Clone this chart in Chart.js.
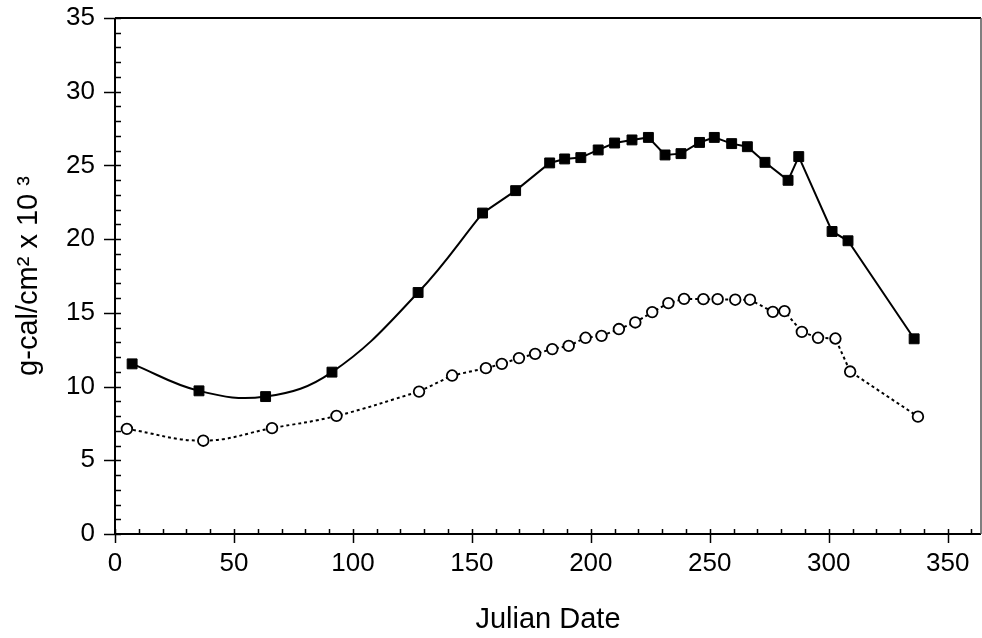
<!DOCTYPE html>
<html>
<head>
<meta charset="utf-8">
<script src="https://cdn.jsdelivr.net/npm/chart.js@4.4.0/dist/chart.umd.min.js"></script>
<style>
html,body{margin:0;padding:0;background:#fff;overflow:hidden;}
canvas{display:block;}
</style>
</head>
<body>
<canvas id="c" width="982" height="638"></canvas>
<script>
// ---- data ----
const squareDays   = [7.2, 35.3, 63.3, 91.2, 127.4, 154.5, 168.4, 182.7, 189, 195.8, 203.1, 210, 217.3, 224.2, 231.2, 237.9, 245.7, 251.9, 259.2, 265.8, 273.2, 282.9, 287.4, 301.4, 308.1, 335.9];
const squareValues = [11.54, 9.71, 9.32, 10.98, 16.38, 21.77, 23.29, 25.17, 25.44, 25.53, 26.05, 26.52, 26.73, 26.9, 25.71, 25.8, 26.56, 26.9, 26.48, 26.27, 25.21, 23.99, 25.6, 20.52, 19.89, 13.24];
const circleDays   = [5.0, 37.1, 66.0, 93.1, 127.8, 141.7, 155.9, 162.6, 169.8, 176.6, 183.8, 190.7, 197.8, 204.5, 211.8, 218.7, 225.8, 232.6, 239.2, 247.3, 253.3, 260.7, 266.9, 276.5, 281.4, 288.7, 295.5, 302.8, 309.0, 337.5];
const circleValues = [7.13, 6.33, 7.18, 8.01, 9.66, 10.75, 11.25, 11.54, 11.93, 12.22, 12.54, 12.76, 13.31, 13.44, 13.9, 14.35, 15.05, 15.66, 15.95, 15.93, 15.93, 15.89, 15.89, 15.07, 15.12, 13.71, 13.31, 13.26, 11.02, 7.96];
const xTickValues = [0, 50, 100, 150, 200, 250, 300, 350];
const yTickValues = [0, 5, 10, 15, 20, 25, 30, 35];
const xAxisTitle = 'Julian Date';
const yAxisTitle = 'g-cal/cm² x 10 ³';
// number of leading points joined by a smooth curve
const squareSmoothCount = 6;
const circleSmoothCount = 5;

const toPoints = (xs, ys) => xs.map((x, i) => ({x: x, y: ys[i]}));
const FONT = "'Liberation Sans', Arial, Helvetica, sans-serif";

const frameAndTicks = {
  id: 'frameAndTicks',
  afterDraw(chart) {
    const {ctx, chartArea: a, scales: {x, y}} = chart;
    ctx.save();
    ctx.strokeStyle = '#000';
    ctx.lineWidth = 1.5;
    for (let v = 0; v <= 35; v += 1) {
      const py = Math.round(y.getPixelForValue(v)) + 0.5;
      ctx.beginPath();
      if (v % 5 === 0) { ctx.moveTo(a.left - 11, py); ctx.lineTo(a.left + 6, py); }
      else { ctx.moveTo(a.left, py); ctx.lineTo(a.left + 6, py); }
      ctx.stroke();
    }
    for (let v = 0; v <= 360; v += 10) {
      const px = Math.round(x.getPixelForValue(v)) + 0.5;
      ctx.beginPath();
      if (v % 50 === 0) { ctx.moveTo(px, a.bottom + 9); ctx.lineTo(px, a.bottom - 5); }
      else { ctx.moveTo(px, a.bottom); ctx.lineTo(px, a.bottom - 5); }
      ctx.stroke();
    }
    ctx.lineWidth = 2;
    ctx.beginPath();
    ctx.moveTo(a.left, a.top); ctx.lineTo(a.left, a.bottom); ctx.lineTo(a.right, a.bottom);
    ctx.moveTo(a.left, a.top); ctx.lineTo(a.right, a.top);
    ctx.stroke();
    ctx.strokeStyle = '#555';
    ctx.lineWidth = 1.5;
    ctx.beginPath();
    ctx.moveTo(a.right, a.top); ctx.lineTo(a.right, a.bottom);
    ctx.stroke();
    ctx.restore();
  }
};

new Chart(document.getElementById('c'), {
  type: 'line',
  data: {
    datasets: [
      {
        label: 'squares',
        data: toPoints(squareDays, squareValues),
        order: 0,
        showLine: true,
        tension: 0,
        borderColor: '#000',
        borderWidth: 2,
        segment: { borderColor: ctx => ctx.p0DataIndex < squareSmoothCount - 1 ? 'rgba(0,0,0,0)' : '#000' },
        pointStyle: 'rect',
        pointRadius: 7,
        pointBackgroundColor: '#000',
        pointBorderColor: '#000',
        pointBorderWidth: 1
      },
      {
        label: 'circles',
        data: toPoints(circleDays, circleValues),
        order: 1,
        showLine: true,
        tension: 0,
        borderColor: '#000',
        borderWidth: 2,
        borderDash: [3, 3],
        segment: { borderColor: ctx => ctx.p0DataIndex < circleSmoothCount - 1 ? 'rgba(0,0,0,0)' : '#000' },
        pointStyle: 'circle',
        pointRadius: 5.3,
        pointBackgroundColor: '#fff',
        pointBorderColor: '#000',
        pointBorderWidth: 1.8
      },
      {
        label: 'squares curve',
        data: toPoints(squareDays.slice(0, squareSmoothCount), squareValues.slice(0, squareSmoothCount)),
        order: 2,
        tension: 0.4,
        borderColor: '#000',
        borderWidth: 2,
        pointRadius: 0
      },
      {
        label: 'circles curve',
        data: toPoints(circleDays.slice(0, circleSmoothCount), circleValues.slice(0, circleSmoothCount)),
        order: 3,
        tension: 0.4,
        borderColor: '#000',
        borderWidth: 2,
        borderDash: [3, 3],
        pointRadius: 0
      }
    ]
  },
  options: {
    responsive: false,
    maintainAspectRatio: false,
    animation: false,
    events: [],
    layout: { autoPadding: false, padding: { left: 0, top: 18, right: 1, bottom: 0 } },
    plugins: { legend: { display: false }, tooltip: { enabled: false } },
    scales: {
      x: {
        type: 'linear',
        position: 'bottom',
        min: 0,
        max: 364,
        grid: { display: false, drawTicks: false, tickLength: 0 },
        border: { display: false },
        afterBuildTicks: s => { s.ticks = xTickValues.map(v => ({value: v})); },
        afterFit: s => { s.height = 104; s.paddingLeft = 0; s.paddingRight = 0; },
        ticks: { color: '#000', font: { family: FONT, size: 26 }, padding: 14, maxRotation: 0, autoSkip: false },
        title: { display: true, text: xAxisTitle, color: '#000', font: { family: FONT, size: 29 }, padding: { top: 0, bottom: 1 } }
      },
      y: {
        type: 'linear',
        min: 0,
        max: 35,
        grid: { display: false, drawTicks: false, tickLength: 0 },
        border: { display: false },
        afterBuildTicks: s => { s.ticks = yTickValues.map(v => ({value: v})); },
        afterFit: s => { s.width = 115; s.paddingTop = 0; s.paddingBottom = 0; },
        ticks: { color: '#000', font: { family: FONT, size: 26 }, padding: 20, autoSkip: false },
        title: { display: true, text: yAxisTitle, color: '#000', font: { family: FONT, size: 29 }, padding: { top: 12, bottom: 0 } }
      }
    }
  },
  plugins: [frameAndTicks]
});
</script>
</body>
</html>
